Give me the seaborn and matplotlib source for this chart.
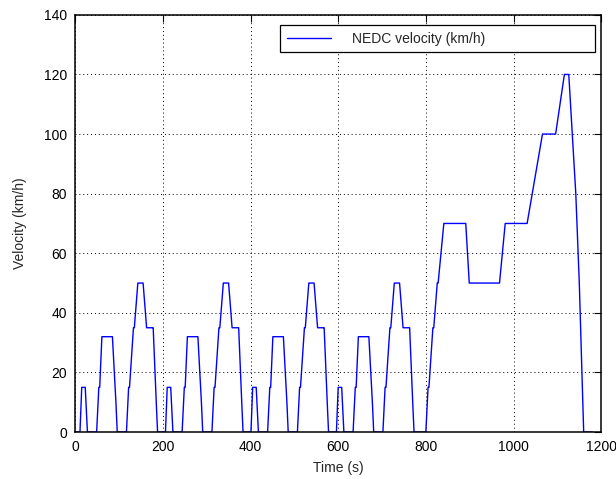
"""
NEDC driving cycle velocity profile (MATLAB-style figure).
Four ECE-15 urban cycles followed by one EUDC extra-urban cycle.
"""

import numpy as np
import pandas as pd
import matplotlib
matplotlib.use("Agg")
import matplotlib.pyplot as plt
import seaborn as sns

# ---------------------------------------------------------------------------
# Data: breakpoints of the cycle (time in s, speed in km/h)
# ---------------------------------------------------------------------------
ece_time = [0, 11, 15, 23, 28, 49, 54, 56, 61, 85, 93, 96, 117, 122, 124,
            133, 135, 143, 155, 163, 176, 178, 185, 188, 195]
ece_speed = [0, 0, 15, 15, 0, 0, 15, 15, 32, 32, 10, 0, 0, 15, 15,
             35, 35, 50, 50, 35, 35, 35, 10, 0, 0]
ece_starts = [0, 195, 390, 585]

eudc_time = [780, 800, 805, 807, 816, 818, 826, 828, 841, 891, 899, 968,
             981, 1031, 1066, 1096, 1116, 1126, 1142, 1150, 1160, 1180]
eudc_speed = [0, 0, 15, 15, 35, 35, 50, 50, 70, 70, 50, 50,
              70, 70, 100, 100, 120, 120, 80, 50, 0, 0]

x_ticks = [0, 200, 400, 600, 800, 1000, 1200]
y_ticks = [0, 20, 40, 60, 80, 100, 120, 140]

# Assemble the full cycle
t_all, v_all = [], []
for start in ece_starts:
    t_all += [start + t for t in ece_time]
    v_all += ece_speed
t_all += eudc_time
v_all += eudc_speed
df = pd.DataFrame({"time": t_all, "velocity": v_all,
                   "series": "NEDC velocity (km/h)"})

# ---------------------------------------------------------------------------
# Plot
# ---------------------------------------------------------------------------
sns.set_style("white")
plt.rcParams["font.family"] = ["Liberation Sans", "DejaVu Sans"]

fig = plt.figure(figsize=(6.16, 4.79), dpi=100)
ax = fig.add_axes([0.122, 0.098, 0.854, 0.871])

sns.lineplot(data=df, x="time", y="velocity", hue="series",
             palette=["#0000ff"], estimator=None, sort=False,
             linewidth=1.0, ax=ax)

ax.set_xlim(0, 1200)
ax.set_ylim(0, 140)
ax.set_xticks(x_ticks)
ax.set_yticks(y_ticks)
ax.tick_params(direction="in", length=5, width=0.8, labelsize=10,
               top=True, right=True, colors="black", pad=6)
ax.grid(True, color="black", linestyle=(0, (1, 3)), linewidth=0.7)
for s in ax.spines.values():
    s.set_color("black")
    s.set_linewidth(1.1)
    s.set_zorder(3)

ax.set_xlabel("Time (s)", fontsize=10, labelpad=5)
ax.set_ylabel("Velocity (km/h)", fontsize=10, labelpad=12)

leg = ax.legend(loc="lower left", bbox_to_anchor=(0.39, 0.911, 0.599, 0.072),
                mode="expand", fancybox=False, frameon=True, fontsize=10,
                handlelength=3.2, handletextpad=1.5, borderaxespad=0,
                borderpad=0.45)
leg.get_frame().set_edgecolor("black")
leg.get_frame().set_linewidth(0.9)
leg.get_frame().set_alpha(1)

fig.savefig("out.png", dpi=100)
plt.close(fig)
